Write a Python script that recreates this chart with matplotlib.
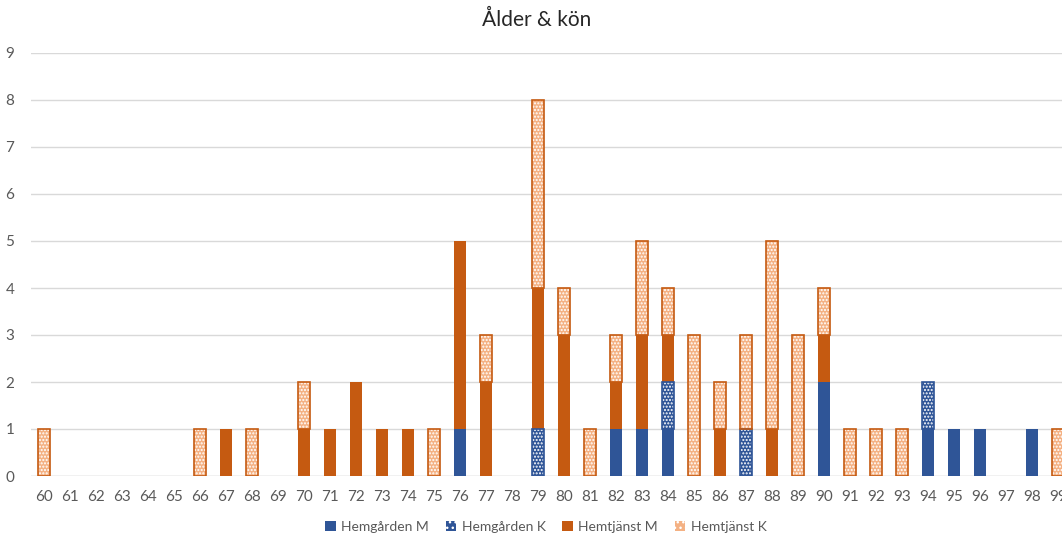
import matplotlib
matplotlib.use('Agg')
import matplotlib.pyplot as plt
from matplotlib.patches import Patch
import numpy as np

plt.rcParams['font.family'] = ['Lato', 'DejaVu Sans']

# ---- data: antal per ålder ----
ages = list(range(60, 100))

hemgarden_m = {76: 1, 82: 1, 83: 1, 84: 1, 90: 2, 94: 1, 95: 1, 96: 1, 98: 1}
hemgarden_k = {79: 1, 84: 1, 87: 1, 94: 1}
hemtjanst_m = {67: 1, 70: 1, 71: 1, 72: 2, 73: 1, 74: 1, 76: 4, 77: 2, 79: 3,
               80: 3, 82: 1, 83: 2, 84: 1, 86: 1, 88: 1, 90: 1}
hemtjanst_k = {60: 1, 66: 1, 68: 1, 70: 1, 75: 1, 77: 1, 79: 4, 80: 1, 81: 1,
               82: 1, 83: 2, 84: 1, 85: 3, 86: 1, 87: 2, 88: 4, 89: 3, 90: 1,
               91: 1, 92: 1, 93: 1, 99: 1}

series = [
    ('Hemgården M', hemgarden_m, '#2F5597', '#2F5597', None),
    ('Hemgården K', hemgarden_k, '#2F5597', '#2F5597', '.....'),
    ('Hemtjänst M', hemtjanst_m, '#C55A11', '#C55A11', None),
    ('Hemtjänst K', hemtjanst_k, '#F4B183', '#C55A11', '.....'),
]

fig = plt.figure(figsize=(10.62, 5.39), dpi=100)
ax = fig.add_axes([31 / 1062, 63 / 539, 1040 / 1062, 423 / 539])

x = np.arange(len(ages))
width = 0.46
bottom = np.zeros(len(ages))
handles = []
for name, d, face, edge, hatch in series:
    vals = np.array([d.get(a, 0) for a in ages], dtype=float)
    nz = vals > 0
    if hatch:
        # fill with white dot pattern, then outline on top
        ax.bar(x[nz], vals[nz], width, bottom=bottom[nz], color=face,
               edgecolor='white', hatch=hatch, linewidth=0, zorder=3)
        ax.bar(x[nz], vals[nz], width, bottom=bottom[nz], fill=False,
               edgecolor=edge, linewidth=1.2, zorder=4)
        handles.append(Patch(facecolor=face, edgecolor='white', hatch='...',
                             linewidth=0, label=name))
    else:
        ax.bar(x[nz], vals[nz], width, bottom=bottom[nz], color=face,
               linewidth=0, zorder=3)
        handles.append(Patch(facecolor=face, label=name))
    bottom += vals

ax.set_xlim(-0.5, len(ages) - 0.5)
ax.set_ylim(0, 9)
ax.set_yticks(range(10))
ax.set_xticks(x)
ax.set_xticklabels([str(a) for a in ages])
ax.tick_params(axis='both', length=0, labelsize=11, colors='#595959')
ax.tick_params(axis='x', pad=10)
ax.tick_params(axis='y', pad=12)
ax.grid(axis='y', color='#D9D9D9', linewidth=1.0, zorder=0)
for s in ax.spines.values():
    s.set_visible(False)
ax.axhline(0, color='#D9D9D9', linewidth=1.0, zorder=2)

fig.text(537 / 1062, 1 - 20 / 539, 'Ålder & kön', ha='center', va='center',
         fontsize=15, color='#262626')

fig.legend(handles=handles, loc='center', bbox_to_anchor=(546 / 1062, 1 - 527 / 539),
           ncol=4, frameon=False, fontsize=10, handlelength=0.75, handleheight=0.75,
           columnspacing=1.2, handletextpad=0.4, labelcolor='#595959')

fig.savefig('out.png', dpi=100)
